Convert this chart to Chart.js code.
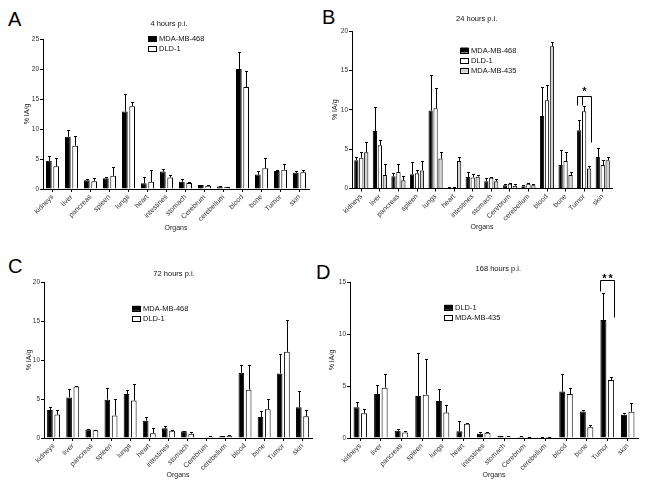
<!DOCTYPE html>
<html><head><meta charset="utf-8">
<script src="https://cdn.jsdelivr.net/npm/chart.js@4/dist/chart.umd.min.js"></script>
<style>
html,body{margin:0;padding:0;background:#fff;}
body{width:650px;height:489px;position:relative;overflow:hidden;font-family:"Liberation Sans",Arial,sans-serif;}
canvas{position:absolute;}
.lt{position:absolute;font-size:20px;line-height:1;color:#000;}
</style></head><body>
<div class="lt" style="left:8px;top:9px">A</div>
<div class="lt" style="left:322px;top:7px">B</div>
<div class="lt" style="left:8px;top:256px">C</div>
<div class="lt" style="left:316px;top:262px">D</div>
<canvas id="cA" style="left:0;top:0"></canvas>
<canvas id="cB" style="left:325px;top:0"></canvas>
<canvas id="cC" style="left:0;top:245px"></canvas>
<canvas id="cD" style="left:325px;top:245px"></canvas>
<script>
// ---------- data ----------
const organs = ['kidneys','liver','pancreas','spleen','lungs','heart','intestines','stomach','Cerebrum','cerebellum','blood','bone','Tumor','skin'];

const titleA = '4 hours p.i.';
const titleB = '24 hours p.i.';
const titleC = '72 hours p.i.';
const titleD = '168 hours p.i.';
const yTitle = '% IA/g';
const xTitle = 'Organs';

const ticksA = [0,5,10,15,20,25];
const ticksB = [0,5,10,15,20];
const ticksC = [0,5,10,15,20];
const ticksD = [0,5,10,15];

// Panel A (4 h)
const a468   = [4.7, 8.7, 1.45, 1.8, 12.9, 0.95, 2.9, 1.2, 0.65, 0.4, 20.0, 2.4, 3.0, 2.7];
const a468Hi = [5.5, 9.8, 1.6, 2.0, 15.9, 2.0, 3.4, 1.6, 0.75, 0.45, 22.8, 3.0, 3.2, 3.0];
const aDLD   = [3.8, 7.2, 1.3, 2.2, 13.8, 1.2, 1.9, 1.0, 0.55, 0.35, 17.0, 3.45, 3.2, 2.8];
const aDLDHi = [5.1, 8.9, 1.9, 3.7, 14.5, 3.2, 2.3, 1.2, 0.65, 0.4, 19.7, 5.2, 4.2, 3.1];

// Panel B (24 h)
const b468   = [3.6, 7.3, 1.57, 1.8, 9.9, 0.1, 1.45, 0.93, 0.4, 0.3, 9.2, 2.97, 7.4, 4.0];
const b468Hi = [4.0, 10.3, 2.0, 3.4, 14.4, 0.15, 2.05, 1.35, 0.6, 0.45, 12.9, 4.9, 8.7, 5.1];
const bDLD   = [3.9, 5.5, 2.1, 1.95, 10.2, 0.1, 1.4, 1.35, 0.6, 0.6, 11.2, 3.5, 9.8, 2.97];
const bDLDHi = [4.6, 6.1, 3.05, 2.4, 12.8, 0.15, 1.8, 1.5, 0.75, 0.75, 13.1, 4.65, 10.5, 3.6];
const b435   = [4.6, 1.7, 1.05, 2.3, 3.8, 3.5, 1.5, 0.93, 0.35, 0.4, 18.05, 1.7, 2.55, 3.6];
const b435Hi = [5.9, 3.05, 1.6, 3.5, 4.6, 3.95, 1.7, 1.2, 0.55, 0.6, 18.6, 2.1, 2.8, 4.0];

// Panel C (72 h)
const c468   = [3.6, 5.2, 1.1, 4.9, 5.65, 2.2, 1.24, 0.86, 0, 0.26, 8.35, 2.7, 8.27, 3.94];
const c468Hi = [4.0, 6.25, 1.2, 6.45, 6.1, 2.7, 1.5, 0.94, 0, 0.3, 9.3, 3.47, 10.75, 6.04];
const cDLD   = [3.0, 6.6, 1.0, 2.9, 4.8, 0.6, 0.94, 0.56, 0.17, 0.26, 6.2, 3.68, 11.05, 2.78];
const cDLDHi = [3.55, 6.7, 1.03, 4.97, 6.9, 1.28, 1.07, 0.73, 0.21, 0.34, 9.4, 4.97, 15.07, 3.55];

// Panel D (168 h)
const dDLD   = [2.95, 4.23, 0.7, 4.04, 3.56, 0.64, 0.42, 0.19, 0.13, 0.06, 4.46, 2.56, 11.35, 2.24];
const dDLDHi = [3.5, 5.1, 0.87, 8.14, 4.71, 1.63, 0.54, 0.22, 0.16, 0.08, 6.19, 2.72, 13.9, 2.4];
const d435   = [2.37, 4.84, 0.54, 4.17, 2.44, 1.38, 0.51, 0.13, 0.1, 0.1, 4.23, 1.03, 5.58, 2.53];
const d435Hi = [2.82, 6.12, 0.67, 7.56, 3.17, 1.47, 0.54, 0.16, 0.13, 0.12, 4.81, 1.28, 5.87, 3.37];

// significance brackets (values in % IA/g)
const sigB = {cat:'Tumor', text:'*', top:11.8, legs:[[0,'l',10.6],[1,'l',10.6],[2,'r',5.95]]};
const sigD = {cat:'Tumor', text:'**', top:15.2, legs:[[0,'l',14.1],[1,'r',11.6]]};

// ---------- rendering ----------
const FONT = '"Liberation Sans", Arial, Helvetica, sans-serif';
Chart.defaults.font.family = FONT;
Chart.defaults.color = '#222';
Chart.defaults.animation = false;

const BLACK = '#000000', WHITE = '#ffffff', GREY = '#d4d4d4';

const decor = {
  id: 'decor',
  afterDatasetsDraw(chart, args, o) {
    const ctx = chart.ctx, ys = chart.scales.y;
    ctx.save();
    ctx.strokeStyle = '#000'; ctx.lineWidth = 1;
    // error bars (upper whisker only)
    chart.data.datasets.forEach((ds, i) => {
      const meta = chart.getDatasetMeta(i);
      meta.data.forEach((bar, j) => {
        const hi = ds.errHi[j];
        if (hi == null || hi <= ds.data[j]) return;
        const x = Math.round(bar.x) + 0.5;
        const yHi = Math.round(ys.getPixelForValue(hi)) + 0.5;
        ctx.beginPath();
        ctx.moveTo(x, bar.y); ctx.lineTo(x, yHi);
        ctx.moveTo(x - 1.5, yHi); ctx.lineTo(x + 1.5, yHi);
        ctx.stroke();
      });
    });
    // significance bracket
    if (o.sig) {
      const s = o.sig, idx = chart.data.labels.indexOf(s.cat);
      const yTop = Math.round(ys.getPixelForValue(s.top)) + 0.5;
      const xs = s.legs.map(([d, side, v]) => {
        const b = chart.getDatasetMeta(d).data[idx];
        const x = Math.round(side === 'l' ? b.x - b.width / 2 : b.x + b.width / 2) + 0.5;
        return [x, Math.round(ys.getPixelForValue(v)) + 0.5];
      });
      ctx.beginPath();
      ctx.moveTo(xs[0][0], yTop); ctx.lineTo(xs[xs.length - 1][0], yTop);
      xs.forEach(([x, yb]) => { ctx.moveTo(x, yTop); ctx.lineTo(x, yb); });
      ctx.stroke();
      ctx.fillStyle = '#000';
      ctx.font = 'bold 11px ' + FONT;
      ctx.textAlign = 'center'; ctx.textBaseline = 'alphabetic';
      if ('letterSpacing' in ctx) ctx.letterSpacing = s.text.length > 1 ? '2px' : '0px';
      ctx.fillText(s.text, (xs[0][0] + xs[xs.length - 1][0]) / 2 + (s.text.length > 1 ? 1 : 0), yTop + o.sigDy);
      if ('letterSpacing' in ctx) ctx.letterSpacing = '0px';
    }
    ctx.restore();
  },
  afterDraw(chart, args, o) {
    const ctx = chart.ctx;
    ctx.save();
    // panel title
    ctx.fillStyle = '#111';
    ctx.font = '7.5px ' + FONT;
    ctx.textAlign = 'center'; ctx.textBaseline = 'middle';
    ctx.fillText(o.title, o.titleX, o.titleY);
    // legend
    ctx.textAlign = 'left';
    chart.data.datasets.forEach((ds, i) => {
      const cy = o.legY + i * 10;
      ctx.fillStyle = ds.backgroundColor;
      ctx.fillRect(o.legX + 0.5, cy - 2.5, 8, 5);
      ctx.strokeStyle = '#000'; ctx.lineWidth = 1;
      ctx.strokeRect(o.legX + 0.5, Math.round(cy - 2.5) + 0.5, 8, 5);
      ctx.fillStyle = '#111';
      ctx.fillText(ds.label, o.legX + 11, cy + 0.5);
    });
    ctx.restore();
  }
};

function panel(id, W, H, box, datasets, yTicks, cat, bar, d) {
  const cv = document.getElementById(id);
  cv.width = W; cv.height = H;
  cv.style.width = W + 'px'; cv.style.height = H + 'px';
  const lh = 7 * 1.2;
  return new Chart(cv, {
    type: 'bar',
    data: {
      labels: organs,
      datasets: datasets.map(s => ({
        label: s.label, data: s.data, errHi: s.hi,
        backgroundColor: s.color, borderColor: '#000', borderWidth: 1,
        categoryPercentage: cat, barPercentage: bar
      }))
    },
    options: {
      responsive: false, maintainAspectRatio: false, animation: false,
      devicePixelRatio: 1,
      layout: {padding: {left: 0, top: box.top, right: W - box.right, bottom: 0}},
      plugins: {legend: {display: false}, tooltip: {enabled: false}, title: {display: false}, decor: d},
      scales: {
        x: {
          afterFit: s => { s.height = H - box.bottom; },
          grid: {display: true, drawOnChartArea: false, drawTicks: true, tickLength: 3, color: '#000', offset: false},
          border: {display: true, color: '#000', width: 1},
          ticks: {font: {size: 7}, color: '#333', minRotation: 45, maxRotation: 45, autoSkip: false, padding: 1},
          title: {display: true, text: xTitle, font: {size: 7}, color: '#222', padding: {top: 0, bottom: box.xTitleOff - lh / 2}}
        },
        y: {
          afterFit: s => { s.width = box.left; },
          min: yTicks[0], max: yTicks[yTicks.length - 1],
          afterBuildTicks: s => { s.ticks = yTicks.map(v => ({value: v})); },
          grid: {display: true, drawOnChartArea: false, drawTicks: true, tickLength: 3, color: '#000'},
          border: {display: true, color: '#000', width: 1},
          ticks: {font: {size: 6.5}, color: '#333', padding: 1},
          title: {display: true, text: yTitle, font: {size: 7}, color: '#222', padding: {top: box.yTitleX - lh / 2, bottom: 0}}
        }
      }
    },
    plugins: [decor]
  });
}

panel('cA', 325, 245, {left: 43, top: 39, right: 309, bottom: 189, xTitleOff: 17, yTitleX: 27},
  [{label: 'MDA-MB-468', data: a468, hi: a468Hi, color: BLACK},
   {label: 'DLD-1', data: aDLD, hi: aDLDHi, color: WHITE}],
  ticksA, 0.77, 0.78,
  {title: titleA, titleX: 169, titleY: 23.5, legX: 148, legY: 38.5});

panel('cB', 325, 245, {left: 27, top: 31, right: 287, bottom: 188.5, xTitleOff: 18.3, yTitleX: 10},
  [{label: 'MDA-MB-468', data: b468, hi: b468Hi, color: BLACK},
   {label: 'DLD-1', data: bDLD, hi: bDLDHi, color: WHITE},
   {label: 'MDA-MB-435', data: b435, hi: b435Hi, color: GREY}],
  ticksB, 0.8, 0.86,
  {title: titleB, titleX: 151.7, titleY: 18.5, legX: 135, legY: 50, sig: sigB, sigDy: -1.5});

panel('cC', 325, 244, {left: 44, top: 37, right: 312, bottom: 193, xTitleOff: 14, yTitleX: 29.3},
  [{label: 'MDA-MB-468', data: c468, hi: c468Hi, color: BLACK},
   {label: 'DLD-1', data: cDLD, hi: cDLDHi, color: WHITE}],
  ticksC, 0.76, 0.78,
  {title: titleC, titleX: 174, titleY: 28.5, legX: 132, legY: 63.3});

panel('cD', 325, 244, {left: 25, top: 37, right: 313, bottom: 193, xTitleOff: 14, yTitleX: 6.7},
  [{label: 'DLD-1', data: dDLD, hi: dDLDHi, color: BLACK},
   {label: 'MDA-MB-435', data: d435, hi: d435Hi, color: WHITE}],
  ticksD, 0.73, 0.8,
  {title: titleD, titleX: 173.3, titleY: 24, legX: 119, legY: 62.3, sig: sigD, sigDy: 1});
</script>
</body></html>
